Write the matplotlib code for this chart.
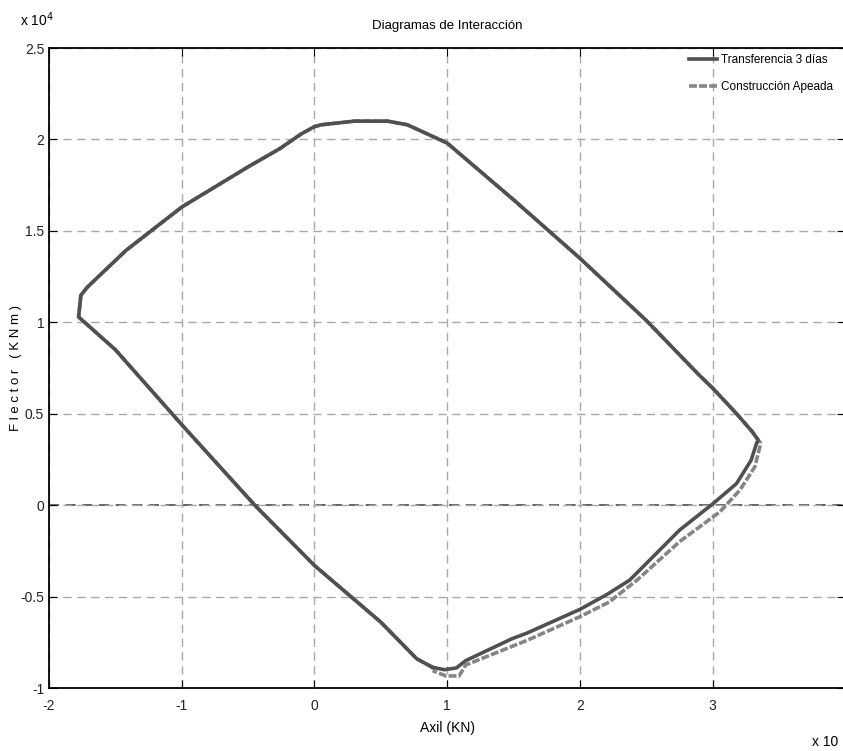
import matplotlib
matplotlib.use("Agg")
import matplotlib.pyplot as plt

plt.rcParams['font.family'] = ['Liberation Sans', 'DejaVu Sans']
plt.rcParams['axes.unicode_minus'] = False

# valores (x 10^4)
# tramo comun a las dos curvas (desde la punta inferior, sentido horario)
axil_comun = [0.89, 0.77, 0.5, 0.0, -0.45, -1.0, -1.5, -1.777, -1.76, -1.71, -1.42, -1.0,
              -0.5, -0.26, -0.1, 0.0, 0.05, 0.3, 0.55, 0.7, 0.85, 1.0, 1.5, 2.0, 2.5,
              2.9, 3.0, 3.18, 3.3]
flector_comun = [-0.887, -0.84, -0.64, -0.33, 0.0, 0.44, 0.85, 1.029, 1.148, 1.193, 1.393, 1.63,
                 1.85, 1.95, 2.03, 2.07, 2.08, 2.10, 2.10, 2.08, 2.03, 1.98, 1.67, 1.35, 1.01,
                 0.71, 0.64, 0.5, 0.40]

# tramo inferior derecho de cada curva
axil_transf = [3.343, 3.33, 3.29, 3.18, 3.004, 2.75, 2.375, 2.2, 2.0, 1.6, 1.49, 1.14, 1.07, 0.98, 0.89]
flector_transf = [0.355, 0.337, 0.246, 0.118, 0.009, -0.137, -0.41, -0.49, -0.57, -0.70, -0.73,
                  -0.85, -0.89, -0.90, -0.887]
axil_apeada = [3.36, 3.356, 3.318, 3.205, 3.054, 2.75, 2.43, 2.22, 2.0, 1.6, 1.14, 1.09, 0.99, 0.89]
flector_apeada = [0.34, 0.32, 0.21, 0.082, -0.037, -0.2, -0.41, -0.53, -0.61, -0.74, -0.874,
                  -0.934, -0.934, -0.905]

x_ticks = [-2, -1, 0, 1, 2, 3]
y_ticks = [-1, -0.5, 0, 0.5, 1, 1.5, 2, 2.5]
y_labels = ['-1', '-0.5', '0', '0.5', '1', '1.5', '2', '2.5']

fig = plt.figure(figsize=(8.43, 7.51), dpi=100)
ax = fig.add_axes([49 / 843, 63 / 751, 796.4 / 843, 640 / 751])

x1 = axil_comun + axil_transf
y1 = flector_comun + flector_transf
x2 = axil_comun + axil_apeada
y2 = flector_comun + flector_apeada

ax.axhline(0, color='#4a4a4a', lw=1.2, ls=(0, (6, 4)), zorder=1)
ax.plot(x2, y2, color='#858585', lw=2.6, ls=(0, (2.2, 0.6)), label='Construcción Apeada', zorder=3)
ax.plot(x1, y1, color='#505050', lw=2.6, label='Transferencia 3 días', zorder=4)

ax.set_xlim(-2, 4)
ax.set_ylim(-1, 2.5)
ax.set_xticks(x_ticks)
ax.set_xticklabels([str(t) for t in x_ticks])
ax.set_yticks(y_ticks)
ax.set_yticklabels(y_labels)
ax.grid(True, color='#a8a8a8', ls=(0, (6, 4)), lw=1.0)
ax.tick_params(direction='in', length=6, top=True, right=True, labelsize=10, colors='#000000',
               labelcolor='#222222')
ax.tick_params(axis='x', pad=8)
for s in ax.spines.values():
    s.set_linewidth(1.3)

ax.set_title('Diagramas de Interacción', fontsize=9.5, pad=14)
ax.set_xlabel('Axil (KN)', fontsize=10, labelpad=6)
ax.set_ylabel('F l e c t o r   ( K N m )', fontsize=9.5)
ax.yaxis.set_label_coords(-0.034, 0.5)

handles, labels = ax.get_legend_handles_labels()
ax.legend(handles[::-1], labels[::-1], loc='upper right', bbox_to_anchor=((844 - 49) / 796.4, 1.007),
          frameon=False, fontsize=8.5, handlelength=2.3, handletextpad=0.4, labelspacing=1.3)

fig.text(20 / 843, 1 - 20 / 751, 'x 10$^4$', fontsize=10, va='center')
fig.text(812 / 843, 1 - 742 / 751, 'x 10', fontsize=10, va='center')

fig.savefig('out.png', dpi=100)
